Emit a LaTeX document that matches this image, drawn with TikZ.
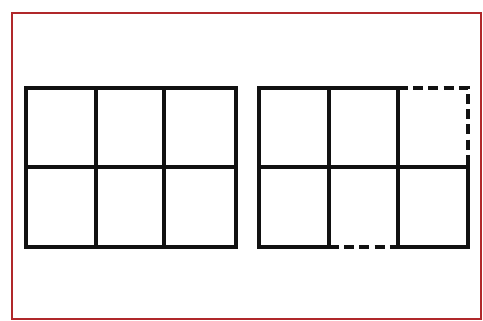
\documentclass[tikz,border=0pt]{standalone}
\usepackage{tikz}
\definecolor{frameRed}{HTML}{B0282A}
\definecolor{gridInk}{HTML}{111111}

\begin{document}
\begin{tikzpicture}[
      x=0.5pt, y=-0.5pt,
      gridline/.style={draw=gridInk, line width=1.6pt, line cap=rect},
      gapline/.style={draw=gridInk, line width=1.6pt, dash pattern=on 5pt off 2.6pt},
      framebox/.style={draw=frameRed, line width=1pt}
    ]
      \useasboundingbox (0,0) rectangle (483,321);
      \fill[white] (0,0) rectangle (483,321);
      \draw[framebox] (12,13) rectangle (481,319);

      % left grid, complete
      \draw[gridline] (26,88) rectangle (236,247);
      \draw[gridline] (26,167) -- (236,167);
      \foreach \xc in {96,164}
        \draw[gridline] (\xc,88) -- (\xc,247);

      % right grid, three sides missing
      \draw[gridline] (398,88) -- (259,88) -- (259,247) -- (329,247);
      \draw[gridline] (398,247) -- (468,247) -- (468,167) -- (259,167);
      \foreach \xc in {329,398}
        \draw[gridline] (\xc,88) -- (\xc,247);
      \draw[gapline] (398,88) -- (468,88) -- (468,167);
      \draw[gapline] (329,247) -- (398,247);
    \end{tikzpicture}
\end{document}
